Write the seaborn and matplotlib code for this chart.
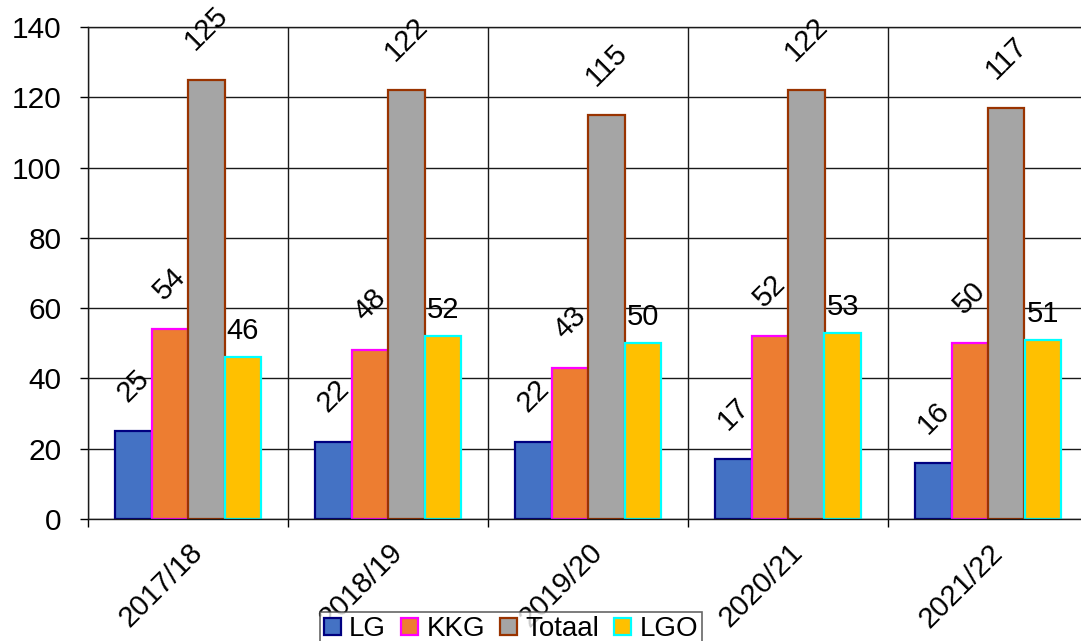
import pandas as pd
import matplotlib.pyplot as plt
import seaborn as sns
from matplotlib.patches import Patch
from matplotlib.ticker import FixedLocator

# Gegevens
seizoenen = ['2017/18', '2018/19', '2019/20', '2020/21', '2021/22']
reeksen = ['LG', 'KKG', 'Totaal', 'LGO']
lg = [25, 22, 22, 17, 16]
kkg = [54, 48, 43, 52, 50]
totaal = [125, 122, 115, 122, 117]
lgo = [46, 52, 50, 53, 51]

vulkleur = ['#4472C4', '#ED7D31', '#A5A5A5', '#FFC000']
randkleur = ['#000080', '#FF00FF', '#993300', '#00FFFF']

df = pd.DataFrame({'seizoen': seizoenen * 4,
                   'reeks': [r for r in reeksen for _ in seizoenen],
                   'waarde': lg + kkg + totaal + lgo})

sns.set_style('white')
plt.rcParams['font.family'] = ['Liberation Sans', 'DejaVu Sans']
plt.rcParams['text.color'] = 'black'
plt.rcParams['xtick.color'] = 'black'
plt.rcParams['ytick.color'] = 'black'

fig = plt.figure(figsize=(10.81, 6.41), dpi=100)
ax = fig.add_axes([88 / 1081, 122 / 641, 1 - 88 / 1081, 492 / 641])

sns.barplot(data=df, x='seizoen', y='waarde', hue='reeks', hue_order=reeksen,
            palette=vulkleur, width=0.73, saturation=1, legend=False, ax=ax)

for i, cont in enumerate(ax.containers):
    for bar, val in zip(cont, cont.datavalues):
        bar.set_edgecolor(randkleur[i])
        bar.set_linewidth(1.6)
        x = bar.get_x() + bar.get_width() / 2
        if i < 3:
            ax.annotate(f'{val:.0f}', (x, val), xytext=(0, 24), textcoords='offset pixels',
                        ha='center', va='bottom', rotation=45, fontsize=21, color='black')
        else:
            ax.annotate(f'{val:.0f}', (x, val), xytext=(0, 12), textcoords='offset pixels',
                        ha='center', va='bottom', fontsize=21, color='black')

# assen en rasterlijnen
ax.set_ylim(0, 140)
ax.set_yticks(range(0, 141, 20))
ax.set_xlim(-0.5, 4.465)
ax.xaxis.set_minor_locator(FixedLocator([-0.5, 0.5, 1.5, 2.5, 3.5]))
ax.grid(True, axis='y', color='#1a1a1a', linewidth=1)
ax.grid(True, axis='x', which='minor', color='#1a1a1a', linewidth=1)
ax.grid(False, axis='x', which='major')
ax.set_axisbelow(True)
ax.tick_params(axis='y', direction='out', length=6, width=1, color='black', labelcolor='black',
               labelsize=21.5, pad=13, left=True)
ax.tick_params(axis='x', which='major', length=0, labelsize=21, labelcolor='black', pad=14)
ax.tick_params(axis='x', which='minor', direction='out', length=6, width=1, color='black', bottom=True)
for lab in ax.get_xticklabels():
    lab.set_rotation(45)
    lab.set_ha('right')
    lab.set_va('top')
    lab.set_rotation_mode('anchor')
ax.set_xlabel('')
ax.set_ylabel('')
for s in ['left', 'bottom', 'top']:
    ax.spines[s].set_color('#1a1a1a')
    ax.spines[s].set_linewidth(1)
ax.spines['right'].set_visible(False)

handles = [Patch(facecolor=f, edgecolor=e, linewidth=1.6, label=r)
           for f, e, r in zip(vulkleur, randkleur, reeksen)]
leg = fig.legend(handles=handles, loc='upper center', bbox_to_anchor=(511 / 1081, 1 - 612 / 641),
                 ncol=4, fontsize=20, frameon=True, fancybox=False, handlelength=0.6,
                 handleheight=0.6, handletextpad=0.3, columnspacing=0.55,
                 borderpad=0.15, borderaxespad=0)
leg.get_frame().set_edgecolor('#404040')
leg.get_frame().set_linewidth(1.2)

fig.savefig('out.png', dpi=100)
